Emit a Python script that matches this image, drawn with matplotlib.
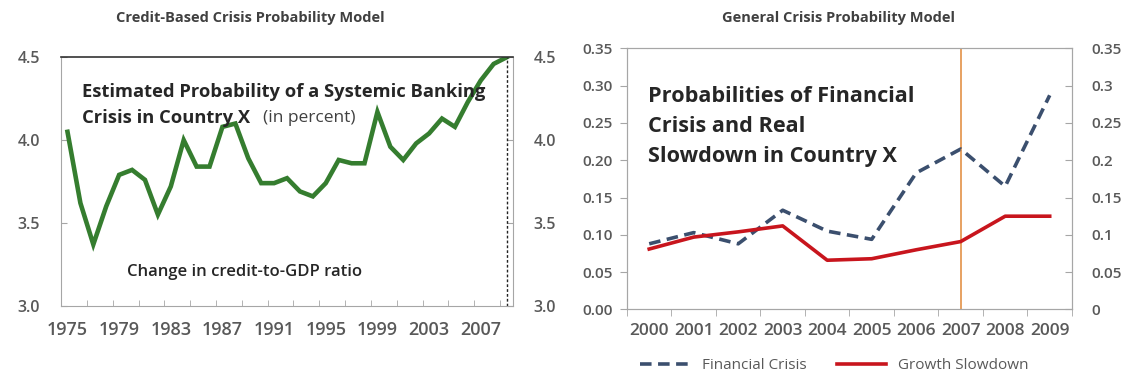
import matplotlib
matplotlib.use("Agg")
from matplotlib import pyplot as plt
from matplotlib.ticker import FixedLocator, FuncFormatter
from matplotlib.lines import Line2D

plt.rcParams['font.family'] = ['Open Sans', 'DejaVu Sans']

# credit-based model, 1975-2009 (in percent)
credit_years = list(range(1975, 2010))
credit_prob = [4.05, 3.62, 3.37, 3.60, 3.79, 3.82, 3.76, 3.55, 3.72, 4.00,
               3.84, 3.84, 4.08, 4.10, 3.89, 3.74, 3.74, 3.77, 3.69, 3.66,
               3.74, 3.88, 3.86, 3.86, 4.17, 3.96, 3.88, 3.98, 4.04, 4.13,
               4.08, 4.23, 4.36, 4.46, 4.50]
credit_ticks = [3.0, 3.5, 4.0, 4.5]

# general model, 2000-2009
gen_years = list(range(2000, 2010))
financial_crisis = [0.088, 0.103, 0.088, 0.133, 0.105, 0.094, 0.183, 0.215, 0.165, 0.287]
growth_slowdown = [0.081, 0.097, 0.104, 0.112, 0.066, 0.068, 0.080, 0.091, 0.125, 0.125]
gen_ticks = [0.0, 0.05, 0.10, 0.15, 0.20, 0.25, 0.30, 0.35]
marker_year = 2007

GRAY = '#a6a6a6'
LABEL = '#595959'
DARK = '#262626'


def bolden_ticks(ax):
    for lbl in ax.get_xticklabels() + ax.get_yticklabels():
        lbl.set_fontweight('semibold')


fig = plt.figure(figsize=(11.26, 3.76), dpi=100)

# ---- left panel ----
ax1 = fig.add_axes([0.0542, 0.187, 0.4014, 0.6606])
ax1.plot(credit_years, credit_prob, color='#357d2f', lw=3.3, solid_joinstyle='miter')
ax1.vlines(credit_years[-1], credit_ticks[0], credit_prob[-1], colors='#222222',
           linestyles=(0, (2, 1.5)), lw=1.0)
ax1.set_xlim(credit_years[0] - 0.5, credit_years[-1] + 0.5)
ax1.set_ylim(credit_ticks[0], credit_ticks[-1])
ax1.set_xticks(range(1975, 2010, 4))
ax1.xaxis.set_minor_locator(FixedLocator([y + 0.5 for y in range(1974, 2009, 2)]))
ax1.tick_params(axis='x', which='major', length=0, labelsize=13, labelcolor=LABEL, pad=11)
ax1.tick_params(axis='x', which='minor', direction='in', length=4, color=GRAY)
ax1.set_yticks(credit_ticks)
ax1.yaxis.set_major_formatter(FuncFormatter(lambda v, p: f"{v:.1f}"))
ax1.tick_params(axis='y', direction='in', length=4, color=GRAY, labelsize=11.5,
                labelcolor=LABEL, left=True, right=True, labelright=True, pad=15)
bolden_ticks(ax1)
for side in ['left', 'right', 'bottom']:
    ax1.spines[side].set_color(GRAY)
ax1.spines['top'].set_color('#333333')
ax1.spines['top'].set_linewidth(1.2)

ax1.text(0.046, 0.86, "Estimated Probability of a Systemic Banking", transform=ax1.transAxes,
         fontsize=13.2, fontweight='bold', color=DARK, va='center')
ax1.text(0.046, 0.755, "Crisis in Country X", transform=ax1.transAxes,
         fontsize=13.2, fontweight='bold', color=DARK, va='center')
ax1.text(0.447, 0.755, "(in percent)", transform=ax1.transAxes,
         fontsize=12.5, color='#404040', va='center')
ax1.text(0.146, 0.136, "Change in credit-to-GDP ratio", transform=ax1.transAxes,
         fontsize=12, fontweight='semibold', color=DARK, va='center')

fig.text(0.222, 0.952, "Credit-Based Crisis Probability Model", ha='center', va='center',
         fontsize=10.5, fontweight='bold', color='#404040')

# ---- right panel ----
ax2 = fig.add_axes([0.5568, 0.1769, 0.3952, 0.6947])
ax2.axvline(marker_year, color='#e59a55', lw=1.3)
ax2.plot(gen_years, financial_crisis, color='#3b4f6e', lw=2.6, ls=(0, (3.2, 1.8)))
ax2.plot(gen_years, growth_slowdown, color='#c8151d', lw=2.6)
ax2.set_xlim(gen_years[0] - 0.5, gen_years[-1] + 0.5)
ax2.set_ylim(gen_ticks[0], gen_ticks[-1])
ax2.set_xticks(gen_years)
ax2.xaxis.set_minor_locator(FixedLocator([y - 0.5 for y in gen_years] + [gen_years[-1] + 0.5]))
ax2.tick_params(axis='x', which='major', length=0, labelsize=12.5, labelcolor=LABEL, pad=10)
ax2.tick_params(axis='x', which='minor', direction='out', length=5, color=GRAY)
ax2.set_yticks(gen_ticks)
ax2.yaxis.set_major_formatter(FuncFormatter(lambda v, p: f"{v:.2f}"))
ax2.tick_params(axis='y', direction='out', length=5, color=GRAY, labelsize=11,
                labelcolor=LABEL, pad=5)
bolden_ticks(ax2)

ax2r = ax2.twinx()
ax2r.set_ylim(ax2.get_ylim())
ax2r.set_yticks(gen_ticks)
ax2r.yaxis.set_major_formatter(FuncFormatter(lambda v, p: f"{v:g}"))
ax2r.tick_params(axis='y', direction='in', length=5, color=GRAY, labelsize=11,
                 labelcolor=LABEL, pad=14)
bolden_ticks(ax2r)
for a in (ax2, ax2r):
    for s in a.spines.values():
        s.set_color(GRAY)

ax2.text(0.047, 0.70, "Probabilities of Financial\nCrisis and Real\nSlowdown in Country X",
         transform=ax2.transAxes, fontsize=15.6, fontweight='bold', color=DARK,
         va='center', linespacing=1.55)

fig.text(0.745, 0.952, "General Crisis Probability Model", ha='center', va='center',
         fontsize=10.5, fontweight='bold', color='#404040')

handles = [Line2D([], [], color='#3b4f6e', lw=2.6, ls=(0, (3.2, 1.8))),
           Line2D([], [], color='#c8151d', lw=2.6)]
leg = fig.legend(handles, ["Financial Crisis", "Growth Slowdown"], loc='center',
                 bbox_to_anchor=(0.741, 0.027), ncol=2, frameon=False, fontsize=11,
                 handlelength=3.2, columnspacing=2.0, handletextpad=0.8)
for t in leg.get_texts():
    t.set_color(LABEL)

fig.savefig("out.png", dpi=100)
